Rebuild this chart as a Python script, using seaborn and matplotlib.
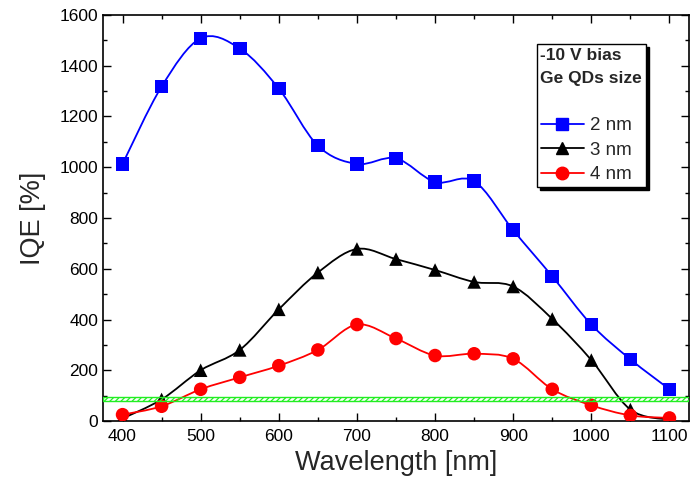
import numpy as np
import matplotlib
matplotlib.use('Agg')
import matplotlib.pyplot as plt
from matplotlib.path import Path
from matplotlib.patches import PathPatch
from matplotlib.lines import Line2D
from matplotlib.ticker import MultipleLocator
import seaborn as sns
import pandas as pd

# Data
wavelength = [400, 450, 500, 550, 600, 650, 700, 750, 800, 850, 900, 950, 1000, 1050, 1100]
iqe_2nm = [1013, 1318, 1508, 1468, 1310, 1085, 1013, 1035, 942, 945, 752, 570, 380, 243, 125]
iqe_3nm = [10, 85, 200, 280, 440, 585, 678, 638, 595, 548, 530, 402, 240, 45, 5]
iqe_4nm = [25, 58, 125, 172, 218, 280, 380, 325, 258, 265, 245, 125, 62, 22, 12]
sizes = ['2 nm', '3 nm', '4 nm']
colors = ['#0000ff', '#000000', '#ff0000']
markers = ['s', '^', 'o']
band = (80, 96)

sns.set_style('ticks')
plt.rcParams['font.family'] = ['Liberation Sans', 'DejaVu Sans']
plt.rcParams['hatch.linewidth'] = 0.9

df = pd.DataFrame({
    'Wavelength': wavelength * 3,
    'IQE': iqe_2nm + iqe_3nm + iqe_4nm,
    'size': [s for s in sizes for _ in wavelength],
})

fig = plt.figure(figsize=(6.91, 4.91), dpi=100)
ax = fig.add_axes([103 / 691, 1 - 421 / 491, 586 / 691, 406 / 491])


def smooth_path(x, y):
    # Catmull-Rom style Bezier through the measured points
    p = np.column_stack([x, y]).astype(float)
    ext = np.vstack([p[0], p, p[-1]])
    verts = [p[0]]
    codes = [Path.MOVETO]
    for i in range(len(p) - 1):
        p0, p1, p2, p3 = ext[i], ext[i + 1], ext[i + 2], ext[i + 3]
        verts += [p1 + (p2 - p0) / 6, p2 - (p3 - p1) / 6, p2]
        codes += [Path.CURVE4] * 3
    return Path(verts, codes)


for s, c in zip(sizes, colors):
    sub = df[df['size'] == s]
    ax.add_patch(PathPatch(smooth_path(sub['Wavelength'], sub['IQE']),
                           facecolor='none', edgecolor=c, lw=1.3, zorder=2))

sns.scatterplot(data=df, x='Wavelength', y='IQE', hue='size', style='size',
                palette=dict(zip(sizes, colors)), markers=dict(zip(sizes, markers)),
                s=95, edgecolor='none', legend=False, ax=ax, zorder=3)

ax.axhspan(band[0], band[1], facecolor='none', edgecolor='#22ee22', hatch='//////',
           lw=1.0, zorder=5)

ax.set_xlim(375, 1125)
ax.set_ylim(0, 1600)
ax.xaxis.set_major_locator(MultipleLocator(100))
ax.xaxis.set_minor_locator(MultipleLocator(50))
ax.yaxis.set_major_locator(MultipleLocator(200))
ax.yaxis.set_minor_locator(MultipleLocator(100))
ax.tick_params(which='both', direction='in', top=True, right=True, width=1, colors='black')
ax.tick_params(which='major', length=6, labelsize=12.5)
ax.tick_params(which='minor', length=3)
ax.tick_params(axis='x', which='major', labeltop=False, pad=6)
for sp in ax.spines.values():
    sp.set_linewidth(1.2)
    sp.set_color('black')

ax.set_xlabel('Wavelength [nm]', fontsize=19.5, labelpad=4)
ax.set_ylabel('IQE [%]', fontsize=19.5, labelpad=10)

handles = [Line2D([], [], color=c, marker=m, markersize=9, lw=1.3, label=s)
           for s, c, m in zip(sizes, colors, markers)]
leg = ax.legend(handles=handles, title='-10 V bias\nGe QDs size\n',
                title_fontproperties={'weight': 'bold', 'size': 12.5},
                alignment='left', fontsize=13.5, loc='upper right',
                bbox_to_anchor=(646 / 691, 1 - 44 / 491), bbox_transform=fig.transFigure,
                handlelength=2.3, handletextpad=0.35, labelspacing=0.4,
                borderpad=0.2, borderaxespad=0, fancybox=False, framealpha=1,
                shadow={'color': 'black', 'alpha': 1}, edgecolor='black')
leg.get_title().set_linespacing(1.7)
leg.get_frame().set_linewidth(1.0)
leg.set_zorder(10)

fig.savefig('out.png', dpi=100)
